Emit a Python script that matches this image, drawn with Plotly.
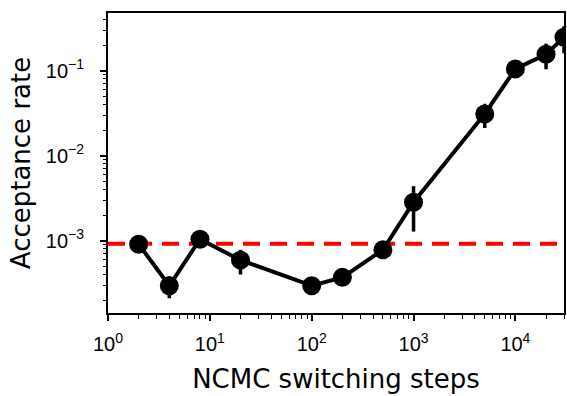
import plotly.graph_objects as go
import numpy as np

# Data
steps = [2, 4, 8, 20, 100, 200, 500, 1000, 5000, 10000, 20000, 30000]
acceptance = [9.1e-4, 2.95e-4, 1.04e-3, 5.9e-4, 2.95e-4, 3.7e-4, 7.8e-4,
              2.83e-3, 0.031, 0.105, 0.156, 0.247]
acceptance_err = [0.5e-4, 0.85e-4, 0.6e-4, 1.9e-4, 0.3e-4, 0.3e-4, 0.5e-4,
                  1.55e-3, 0.0098, 0.008, 0.052, 0.087]
reference_rate = 9.2e-4

x_major = [1, 10, 100, 1000, 10000]
x_major_text = ["10<sup>0</sup>", "10<sup>1</sup>", "10<sup>2</sup>", "10<sup>3</sup>", "10<sup>4</sup>"]
y_major = [1e-3, 1e-2, 1e-1]
y_major_text = ["10<sup>−3</sup>", "10<sup>−2</sup>", "10<sup>−1</sup>"]

x_minor = [m * 10 ** e for e in range(0, 5) for m in range(2, 10) if m * 10 ** e <= 30000]
y_minor = [m * 10 ** e for e in range(-4, 0) for m in range(2, 10) if 1.4e-4 <= m * 10 ** e <= 0.48]

x_range = [0, np.log10(30000)]
y_range = [-3.851, -0.321]

fig = go.Figure()
fig.add_trace(go.Scatter(
    x=[1, 30000], y=[reference_rate, reference_rate], mode="lines",
    line=dict(color="#ff0000", width=4, dash="17px,10px"), showlegend=False,
))
fig.add_trace(go.Scatter(
    x=steps, y=acceptance, mode="lines+markers",
    line=dict(color="black", width=4),
    marker=dict(color="black", size=19),
    error_y=dict(type="data", array=acceptance_err, color="black", thickness=3.5, width=0),
    showlegend=False,
))

tickfont = dict(family="Liberation Sans, Arial", size=20, color="black")
titlefont = dict(family="DejaVu Sans", size=26, color="black")

fig.update_xaxes(
    type="log", range=x_range, tickmode="array", tickvals=x_major, ticktext=x_major_text,
    ticks="outside", ticklen=6, tickwidth=1.5, tickcolor="black",
    showline=True, linecolor="black", linewidth=2, mirror=True,
    showgrid=False, zeroline=False, tickfont=tickfont, ticklabelstandoff=6,
    minor=dict(tickmode="array", tickvals=x_minor, ticks="outside", ticklen=3.5, tickwidth=1.2,
               tickcolor="black", showgrid=False),
    title=dict(text="NCMC switching steps", font=titlefont, standoff=16),
)
fig.update_yaxes(
    type="log", range=y_range, tickmode="array", tickvals=y_major, ticktext=y_major_text,
    ticks="outside", ticklen=6, tickwidth=1.5, tickcolor="black",
    showline=True, linecolor="black", linewidth=2, mirror=True,
    showgrid=False, zeroline=False, tickfont=tickfont, ticklabelstandoff=12,
    minor=dict(tickmode="array", tickvals=y_minor, ticks="outside", ticklen=3.5, tickwidth=1.2,
               tickcolor="black", showgrid=False),
    title=dict(text="Acceptance rate", font=titlefont, standoff=8),
)
fig.update_layout(
    width=567, height=396,
    margin=dict(l=108, r=1, t=13, b=83),
    plot_bgcolor="white", paper_bgcolor="white",
)
fig.write_html("out.html")
